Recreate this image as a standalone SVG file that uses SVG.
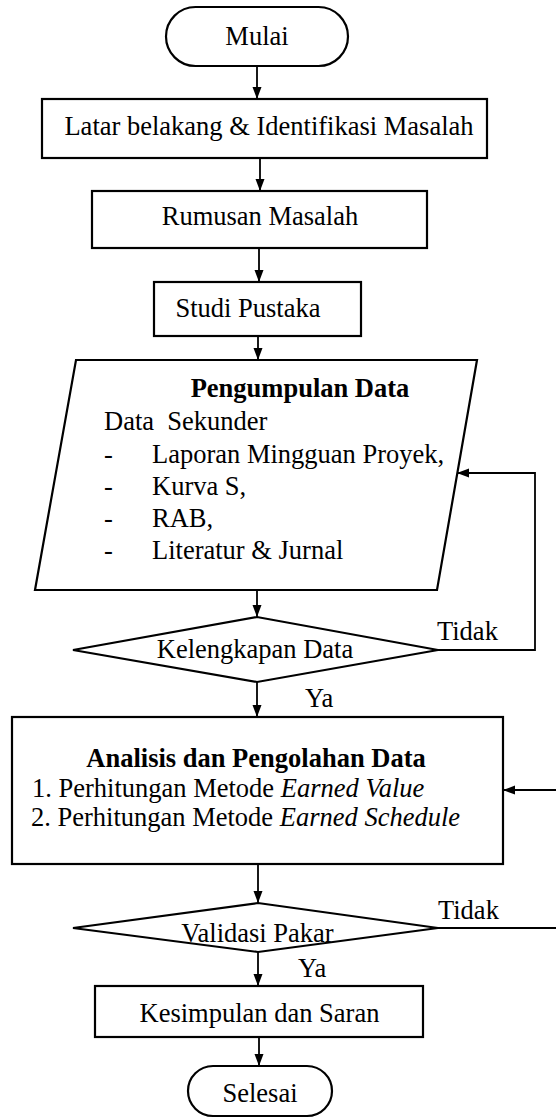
<svg xmlns="http://www.w3.org/2000/svg" width="556" height="1119" viewBox="0 0 556 1119">
<defs>
<marker id="ah" markerUnits="userSpaceOnUse" markerWidth="12" markerHeight="10" refX="12" refY="4.5" orient="auto">
<path d="M0,0 L12,4.5 L0,9 z" fill="#000"/>
</marker>
<style>
.s{fill:#fff;stroke:#000;stroke-width:2.2}
.t{font-family:'Liberation Serif','DejaVu Serif',serif;font-size:26.5px;fill:#000}
.m{text-anchor:middle}
.b{font-weight:bold}
.i{font-style:italic}
.c{fill:none;stroke:#000;stroke-width:1.8}
</style>
</defs>
<rect width="556" height="1119" fill="#fff"/>
<g id="connectors">
<line class="c" x1="257" y1="66" x2="257" y2="99" marker-end="url(#ah)"/>
<line class="c" x1="260" y1="158" x2="260" y2="191" marker-end="url(#ah)"/>
<line class="c" x1="259" y1="248" x2="259" y2="282" marker-end="url(#ah)"/>
<line class="c" x1="258" y1="336" x2="258" y2="360" marker-end="url(#ah)"/>
<line class="c" x1="257" y1="590" x2="257" y2="617" marker-end="url(#ah)"/>
<polyline class="c" points="438,650 535,650 535,473 457,473" marker-end="url(#ah)"/>
<line class="c" x1="257" y1="682" x2="257" y2="717" marker-end="url(#ah)"/>
<line class="c" x1="556" y1="790" x2="503" y2="790" marker-end="url(#ah)"/>
<line class="c" x1="258" y1="864" x2="258" y2="903" marker-end="url(#ah)"/>
<line class="c" x1="438" y1="928" x2="556" y2="928"/>
<line class="c" x1="258" y1="952" x2="258" y2="986" marker-end="url(#ah)"/>
<line class="c" x1="259" y1="1037" x2="259" y2="1066" marker-end="url(#ah)"/>
<text class="t" x="437" y="640">Tidak</text>
<text class="t" x="305" y="707">Ya</text>
<text class="t" x="438" y="919">Tidak</text>
<text class="t" x="298" y="977">Ya</text>
</g>
<g id="mulai">
<rect class="s" x="166" y="7" width="182" height="59" rx="29.5"/>
<text class="t m" x="257" y="45">Mulai</text>
</g>
<g id="latar">
<rect class="s" x="42" y="99" width="445" height="59"/>
<text class="t m" x="269" y="135">Latar belakang &amp; Identifikasi Masalah</text>
</g>
<g id="rumusan">
<rect class="s" x="92" y="191" width="335" height="57"/>
<text class="t m" x="260" y="225">Rumusan Masalah</text>
</g>
<g id="studi">
<rect class="s" x="154" y="282" width="207" height="54"/>
<text class="t m" x="248" y="317">Studi Pustaka</text>
</g>
<g id="pengumpulan">
<polygon class="s" points="76,360 477,360 437,590 35,590"/>
<text class="t m b" x="300" y="397">Pengumpulan Data</text>
<text class="t" x="104" y="430" style="white-space:pre">Data  Sekunder</text>
<text class="t" x="104" y="463">-</text>
<text class="t" x="152" y="463">Laporan Mingguan Proyek,</text>
<text class="t" x="104" y="495">-</text>
<text class="t" x="152" y="495">Kurva S,</text>
<text class="t" x="104" y="527">-</text>
<text class="t" x="152" y="527">RAB,</text>
<text class="t" x="104" y="559">-</text>
<text class="t" x="152" y="559">Literatur &amp; Jurnal</text>
</g>
<g id="kelengkapan">
<polygon class="s" points="73,650 257,617 438,650 257,682"/>
<text class="t m" x="255" y="658">Kelengkapan Data</text>
</g>
<g id="analisis">
<rect class="s" x="12" y="717" width="491" height="147"/>
<text class="t m b" x="256" y="767">Analisis dan Pengolahan Data</text>
<text class="t" x="32" y="797">1. Perhitungan Metode <tspan class="i">Earned Value</tspan></text>
<text class="t" x="31" y="826">2. Perhitungan Metode <tspan class="i">Earned Schedule</tspan></text>
</g>
<g id="validasi">
<polygon class="s" points="73,928 258,903 438,928 258,952"/>
<text class="t m" x="257.5" y="942">Validasi Pakar</text>
</g>
<g id="kesimpulan">
<rect class="s" x="95" y="986" width="328" height="51"/>
<text class="t m" x="259.5" y="1022">Kesimpulan dan Saran</text>
</g>
<g id="selesai">
<rect class="s" x="188" y="1066" width="144" height="50" rx="25"/>
<text class="t m" x="260" y="1102">Selesai</text>
</g>
</svg>
